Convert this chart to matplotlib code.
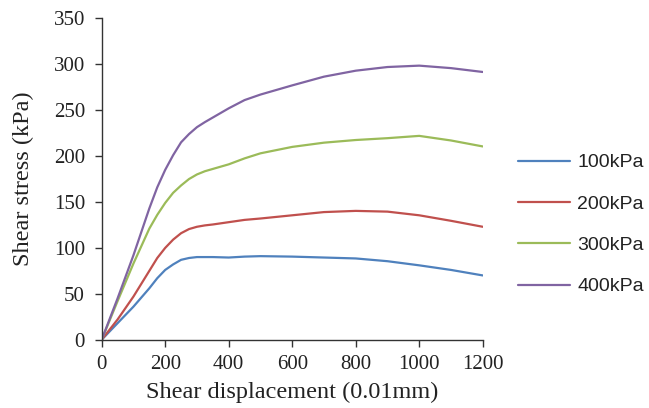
import matplotlib
matplotlib.use("Agg")
import matplotlib.pyplot as plt

# Shear stress vs. shear displacement for four normal stresses
disp = [0, 50, 100, 150, 175, 200, 225, 250, 275, 300, 325, 350, 400, 450, 500,
        600, 700, 800, 900, 1000, 1100, 1200]
stress_100 = [0, 18, 36, 56, 67, 76, 82, 87, 89, 90, 90, 90, 89.5, 90.5, 91,
              90.5, 89.5, 88.5, 85.5, 81, 76, 70]
stress_200 = [0, 22, 47, 75, 89, 100, 109, 116, 120.5, 123, 124.5, 125.5, 128, 130.5, 132,
              135.5, 139, 140.3, 139.5, 135.5, 129.5, 123]
stress_300 = [0, 42, 83, 121, 136, 149, 160, 168, 175, 180, 183.5, 186, 191, 197.5, 203,
              210, 214.6, 217.5, 219.5, 222, 217, 210.5]
stress_400 = [0, 45, 92, 143, 166, 185, 201, 215, 224, 231.5, 237, 242, 252, 261, 267,
              277, 286.5, 293, 297, 298.5, 295.8, 291.6]

labels = ["100kPa", "200kPa", "300kPa", "400kPa"]
colors = ["#4F81BD", "#C0504D", "#9BBB59", "#8064A2"]

serif = "Liberation Serif"
sans = "Liberation Sans"

fig = plt.figure(figsize=(6.49, 4.08), dpi=100)
ax = fig.add_axes([0.1567, 0.1674, 0.5871, 0.7876])

for y, lab, c in zip([stress_100, stress_200, stress_300, stress_400], labels, colors):
    ax.plot(disp, y, color=c, lw=1.6, label=lab,
            solid_capstyle="round", solid_joinstyle="round")

ax.set_xlim(0, 1200)
ax.set_ylim(0, 350)
ax.set_xticks(range(0, 1201, 200))
ax.set_yticks(range(0, 351, 50))

for side in ("top", "right"):
    ax.spines[side].set_visible(False)
for side in ("left", "bottom"):
    ax.spines[side].set_color("#333333")
    ax.spines[side].set_linewidth(1.0)

ax.tick_params(direction="out", length=5, width=1.0, color="#333333",
               labelsize=15, labelcolor="#222222")
ax.tick_params(axis="y", pad=7)
ax.tick_params(axis="x", pad=6)
for t in ax.get_xticklabels() + ax.get_yticklabels():
    t.set_fontfamily(serif)

ax.set_xlabel("Shear displacement (0.01mm)", fontfamily=serif, fontsize=17.5,
              color="#222222")
ax.set_ylabel("Shear stress (kPa)", fontfamily=serif, fontsize=17.5,
              color="#222222")
ax.xaxis.set_label_coords(0.5, -0.13)
ax.yaxis.set_label_coords(-0.178, 0.5)

fig.legend(loc="center left", bbox_to_anchor=(518 / 649, 1 - 224.5 / 408),
           frameon=False, prop={"family": sans, "size": 14}, handlelength=2.68,
           handletextpad=0.36, labelspacing=1.22, borderpad=0, borderaxespad=0,
           labelcolor="#222222")

fig.savefig("out.png", dpi=100)
